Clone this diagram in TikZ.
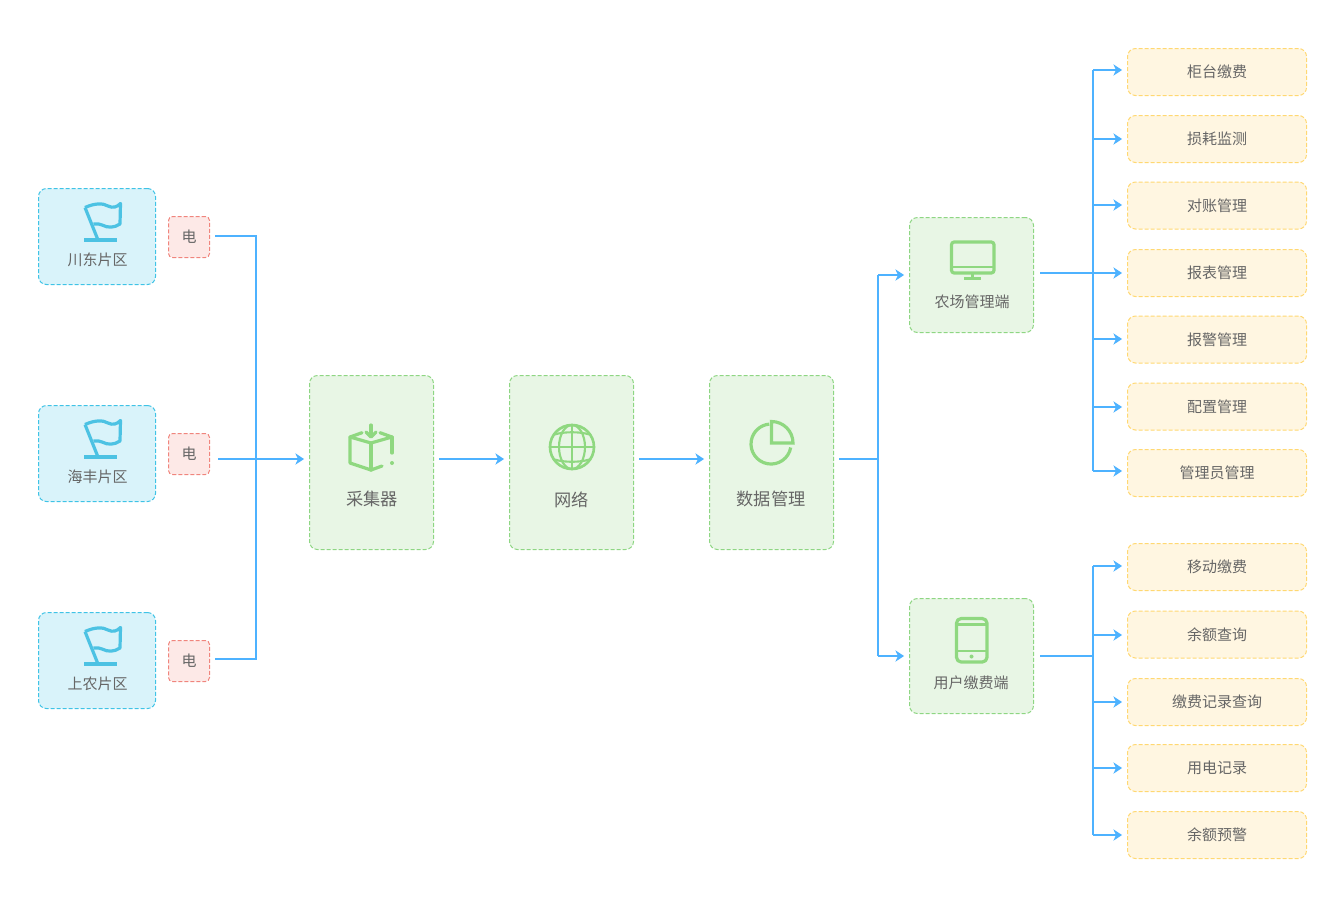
\documentclass[tikz,border=0pt]{standalone}
\usepackage{fontspec}
\setmainfont{Noto Sans CJK SC}
\usetikzlibrary{arrows.meta}
\definecolor{linec}{HTML}{4DB2FF}
\definecolor{bluef}{HTML}{D9F3FA}
\definecolor{blued}{HTML}{3FC3E6}
\definecolor{pinkf}{HTML}{FDE9E7}
\definecolor{pinkd}{HTML}{F0857D}
\definecolor{greenf}{HTML}{E8F6E5}
\definecolor{greend}{HTML}{8ED683}
\definecolor{yellowf}{HTML}{FFF6E1}
\definecolor{yellowd}{HTML}{FFD872}
\definecolor{iconb}{HTML}{4CC2E3}
\definecolor{icong}{HTML}{8FD880}
\definecolor{textc}{HTML}{666666}
\tikzset{
  boxbase/.style={draw,dash pattern=on 3pt off 1.5pt,line width=0.75pt,inner sep=0pt,outer sep=0pt,rounded corners=6pt},
  bluebox/.style={boxbase,draw=blued,fill=bluef,minimum width=87.75pt,minimum height=72pt},
  pinkbox/.style={boxbase,draw=pinkd,fill=pinkf,minimum width=30.75pt,minimum height=30.75pt,rounded corners=3pt,text=textc,font=\fontsize{11.25pt}{13pt}\selectfont},
  bigbox/.style={boxbase,draw=greend,fill=greenf,minimum width=93pt,minimum height=130.5pt},
  clientbox/.style={boxbase,draw=greend,fill=greenf,minimum width=93pt,minimum height=86.25pt},
  funcbox/.style={boxbase,draw=yellowd,fill=yellowf,minimum width=134.25pt,minimum height=35.25pt,text=textc,font=\fontsize{11.25pt}{13pt}\selectfont},
  smalllabel/.style={inner sep=0pt,text=textc,font=\fontsize{11.25pt}{13pt}\selectfont},
  biglabel/.style={inner sep=0pt,text=textc,font=\fontsize{12.9pt}{15pt}\selectfont},
  conn/.style={draw=linec,line width=1.5pt},
  arr/.style={conn,-{Stealth[length=6.5pt,width=8.5pt,inset=2pt]},shorten >=4.1pt},
  iconblue/.style={draw=iconb,line width=2.4pt,line cap=butt,line join=round},
  icongreen/.style={draw=icong,line width=2.4pt,line cap=round,line join=round},
}
\newcommand{\flagicon}[1]{%
  \begin{scope}[yshift=#1*-0.75pt]
    \draw[iconblue] (84,240) -- (117,240);
    \draw[iconblue] (98,240) -- (85,207.5);
    \draw[iconblue] (85,207.5) .. controls (95,203) and (103,203) .. (108,206) .. controls (113,208.5) and (117,207) .. (120.5,203.5) -- (120,224) .. controls (114,228) and (108,228) .. (102,225) .. controls (100,224) and (97,223.5) .. (93.5,224);
  \end{scope}}
\begin{document}
\begin{tikzpicture}[x=0.75pt,y=-0.75pt]
\useasboundingbox (0,0) rectangle (1326,911);
% regions
\node[bluebox] (r1) at (97,236.5) {};
\node[bluebox] (r2) at (97,453.5) {};
\node[bluebox] (r3) at (97,660.5) {};
\node[smalllabel] (r1t) at (97.5,259.5) {川东片区};
\node[smalllabel] (r2t) at (97.5,476.5) {海丰片区};
\node[smalllabel] (r3t) at (97.5,683.5) {上农片区};
\flagicon{0}
\flagicon{217}
\flagicon{424}
\node[pinkbox] (e1) at (189,237) {电};
\node[pinkbox] (e2) at (189,454) {电};
\node[pinkbox] (e3) at (189,661) {电};
% main boxes
\node[bigbox] (c) at (371.5,462.5) {};
\node[bigbox] (n) at (571.5,462.5) {};
\node[bigbox] (d) at (771.5,462.5) {};
\node[biglabel] (ct) at (372,498.5) {采集器};
\node[biglabel] (nt) at (571.5,499.5) {网络};
\node[biglabel] (dt) at (771,498.5) {数据管理};
% clients
\node[clientbox] (f) at (971.5,275) {};
\node[clientbox] (u) at (971.5,656) {};
\node[smalllabel] (ft) at (972,301.5) {农场管理端};
\node[smalllabel] (ut) at (971,682.5) {用户缴费端};
% functions
\node[funcbox] (y1) at (1217,72) {柜台缴费};
\node[funcbox] (y2) at (1217,139) {损耗监测};
\node[funcbox] (y3) at (1217,205.5) {对账管理};
\node[funcbox] (y4) at (1217,273) {报表管理};
\node[funcbox] (y5) at (1217,339.5) {报警管理};
\node[funcbox] (y6) at (1217,406.5) {配置管理};
\node[funcbox] (y7) at (1217,473) {管理员管理};
\node[funcbox] (z1) at (1217,567) {移动缴费};
\node[funcbox] (z2) at (1217,634.5) {余额查询};
\node[funcbox] (z3) at (1217,702) {缴费记录查询};
\node[funcbox] (z4) at (1217,768) {用电记录};
\node[funcbox] (z5) at (1217,835) {余额预警};
% connector end points
\coordinate (s1) at (215,236);
\coordinate (s2) at (218,459);
\coordinate (s3) at (215,659);
\coordinate (tl) at (256,459);
\coordinate (c1) at (439,459);
\coordinate (c2) at (639,459);
\coordinate (c3) at (839,459);
\coordinate (tm) at (878,459);
\coordinate (fa) at (878,275);
\coordinate (ua) at (878,656);
\coordinate (fo) at (1040,273);
\coordinate (uo) at (1040,656);
\coordinate (a1) at (1093,70);
\coordinate (a2) at (1093,139);
\coordinate (a3) at (1093,205);
\coordinate (a4) at (1093,273);
\coordinate (a5) at (1093,339);
\coordinate (a6) at (1093,407);
\coordinate (a7) at (1093,471);
\coordinate (b1) at (1093,566);
\coordinate (b2) at (1093,635);
\coordinate (b3) at (1093,702);
\coordinate (b4) at (1093,768);
\coordinate (b5) at (1093,835);
\coordinate (bm) at (1093,656);
% connectors
\draw[conn,line join=miter] (s1) -| (tl);
\draw[conn,line join=miter] (s3) -| (tl);
\draw[arr] (s2) -- (c.west |- s2);
\draw[arr] (c1) -- (n.west |- c1);
\draw[arr] (c2) -- (d.west |- c2);
\draw[conn] (c3) -- (tm);
\draw[arr] (fa) -- (f.west |- fa);
\draw[arr] (ua) -- (u.west |- ua);
\draw[conn] (fa) -- (ua);
\draw[conn] (a1) -- (a7);
\draw[conn] (b1) -- (b5);
\draw[conn] (fo) -- (a4);
\draw[conn] (uo) -- (bm);
\foreach \p/\q in {a1/y1,a2/y2,a3/y3,a4/y4,a5/y5,a6/y6,a7/y7,b1/z1,b2/z2,b3/z3,b4/z4,b5/z5}
  \draw[arr] (\p) -- (\q.west |- \p);
% collector icon
\draw[icongreen] (362,432.7) -- (350,437) -- (350,463) -- (371,470) -- (382,466);
\draw[icongreen] (350,437) -- (371,443) -- (392,437) -- (380,432.7);
\draw[icongreen] (371,443) -- (371,470);
\draw[icongreen] (392,437) -- (392,453);
\fill[icong] (392,463) circle (2);
\draw[icongreen] (371,425) -- (371,436);
\draw[icongreen] (366,432) -- (371,437) -- (376,432);
% globe icon
\draw[icongreen,line width=2pt] (572,447) circle (22);
\draw[icongreen,line width=1.6pt] (572,447) ellipse (13 and 22);
\draw[icongreen,line width=1.6pt] (572,425) -- (572,469);
\draw[icongreen,line width=1.6pt] (550,447) -- (594,447);
\draw[icongreen,line width=1.6pt] (554.5,434.5) .. controls (564,431.5) and (580,431.5) .. (589.5,434.5);
\draw[icongreen,line width=1.6pt] (554.5,459.5) .. controls (564,462.5) and (580,462.5) .. (589.5,459.5);
% pie icon
\draw[icongreen,line cap=butt] (790.7,447.5) arc[start angle=10,delta angle=255,radius=20];
\draw[icongreen,line join=miter] (771.5,443) -- (771.5,421.5) arc[start angle=-90,end angle=0,radius=21.5] -- cycle;
% monitor icon
\draw[icongreen,rounded corners=2pt] (951.5,242) rectangle (994,273);
\draw[icongreen,line width=1.6pt,line cap=butt] (951.5,267) -- (994,267);
\draw[icongreen,line cap=butt] (972.5,273) -- (972.5,278.5);
\draw[icongreen,line cap=butt] (964,278.5) -- (981,278.5);
% tablet icon
\draw[icongreen,rounded corners=3.5pt] (956.5,618.5) rectangle (987,662);
\draw[icongreen,line width=1.6pt,line cap=butt] (956.5,624.5) -- (987,624.5);
\draw[icongreen,line width=1.6pt,line cap=butt] (956.5,651) -- (987,651);
\fill[icong] (971.5,656.5) circle (2);
\end{tikzpicture}
\end{document}
